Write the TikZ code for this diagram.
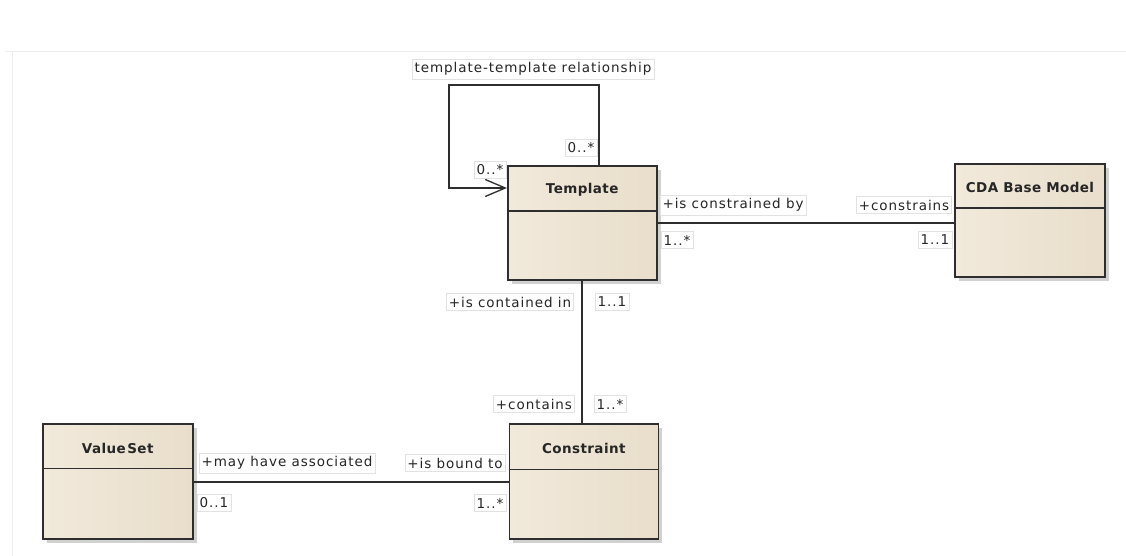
\documentclass[tikz,border=0pt]{standalone}
\usepackage{fontspec}
\usetikzlibrary{arrows.meta,shadows}
\newfontfamily\umlfont[LetterSpace=7]{DejaVu Sans}
\newfontfamily\umlbold[LetterSpace=3]{DejaVu Sans}
\definecolor{boxdark}{HTML}{E9DECB}
\definecolor{boxmid}{HTML}{F7F0E4}
\definecolor{boxlight}{HTML}{F1E9DB}
\definecolor{edgecol}{HTML}{2E2E2E}
\definecolor{framecol}{HTML}{EDEDED}
\definecolor{tagline}{HTML}{E2E2E2}
\tikzset{
  classbox/.style={draw=edgecol, line width=1.6pt, left color=boxlight, middle color=boxmid, right color=boxdark,
    inner sep=0pt, drop shadow={shadow xshift=4pt, shadow yshift=-4pt, fill=black!45, opacity=.4}},
  headline/.style={draw=edgecol, line width=1.6pt},
  classtitle/.style={font=\umlbold\bfseries\fontsize{13.5}{16}\selectfont, text=black!85},
  tag/.style={fill=white, draw=tagline, line width=0.6pt, inner xsep=2.5pt, inner ysep=3.5pt,
    font=\umlfont\fontsize{13.5}{15}\selectfont, text=black!85},
  assoc/.style={draw=edgecol, line width=1.6pt},
}
\begin{document}
\begin{tikzpicture}[x=1pt, y=-1pt]
\useasboundingbox (0,0) rectangle (1126,556);
\fill[white] (0,0) rectangle (1126,556);
% faint diagram frame
\draw[framecol, line width=1pt] (5,51.5) -- (1126,51.5);
\draw[framecol, line width=1pt] (12.3,51.5) -- (12.3,556);

% classes
\node[classbox, minimum width=149pt, minimum height=114pt] (tmpl) at (582.2,223) {};
\node[classbox, minimum width=150pt, minimum height=113pt] (cda) at (1030,220.3) {};
\node[classbox, minimum width=149pt, minimum height=115pt] (cons) at (583.8,481.7) {};
\node[classbox, minimum width=150pt, minimum height=115pt] (vs) at (117.7,481.7) {};

\draw[headline] ([yshift=-46pt]tmpl.north west) -- ([yshift=-46pt]tmpl.north east);
\draw[headline] ([yshift=-45pt]cda.north west) -- ([yshift=-45pt]cda.north east);
\draw[headline] ([yshift=-46pt]cons.north west) -- ([yshift=-46pt]cons.north east);
\draw[headline] ([yshift=-45pt]vs.north west) -- ([yshift=-45pt]vs.north east);

\node[classtitle] (tmplT) at ([yshift=-25pt]tmpl.north) {Template};
\node[classtitle] (cdaT) at ([yshift=-24pt]cda.north) {CDA Base Model};
\node[classtitle] (consT) at ([yshift=-25pt]cons.north) {Constraint};
\node[classtitle] (vsT) at ([yshift=-25pt]vs.north) {Value\hspace{0.12em}Set};

% associations
\draw[assoc, -{Straight Barb[length=20pt,width=17pt,line width=1.3pt]}]
  ([xshift=17pt]tmpl.north) |- (449,85) |- ([yshift=35pt]tmpl.west);
\draw[assoc] (tmpl.east) -- (tmpl.east -| cda.west);
\draw[assoc] (tmpl.south) -- (tmpl.south |- cons.north);
\draw[assoc] (vs.east) -- (cons.west);

% association labels
\node[tag] (loopname) at (533,69) {template-template relationship};
\node[tag] (loopsrc) at (581,148) {0..*};
\node[tag] (looptgt) at (490,170) {0..*};

\node[tag] (constrby) at (733,205) {+is constrained by};
\node[tag] (constrains) at (904,205) {+constrains};
\node[tag] (mulTc) at (677,240) {1..*};
\node[tag] (mulCt) at (935,240) {1..1};

\node[tag] (containedin) at (510,302) {+is contained in};
\node[tag] (mulTk) at (612,302) {1..1};
\node[tag] (contains) at (534,404) {+contains};
\node[tag] (mulKt) at (610,404) {1..*};

\node[tag] (mayhave) at (287,463) {+may have associated};
\node[tag] (boundto) at (455,463) {+is bound to};
\node[tag] (mulVk) at (214,503) {0..1};
\node[tag] (mulKv) at (490,503) {1..*};
\end{tikzpicture}
\end{document}
